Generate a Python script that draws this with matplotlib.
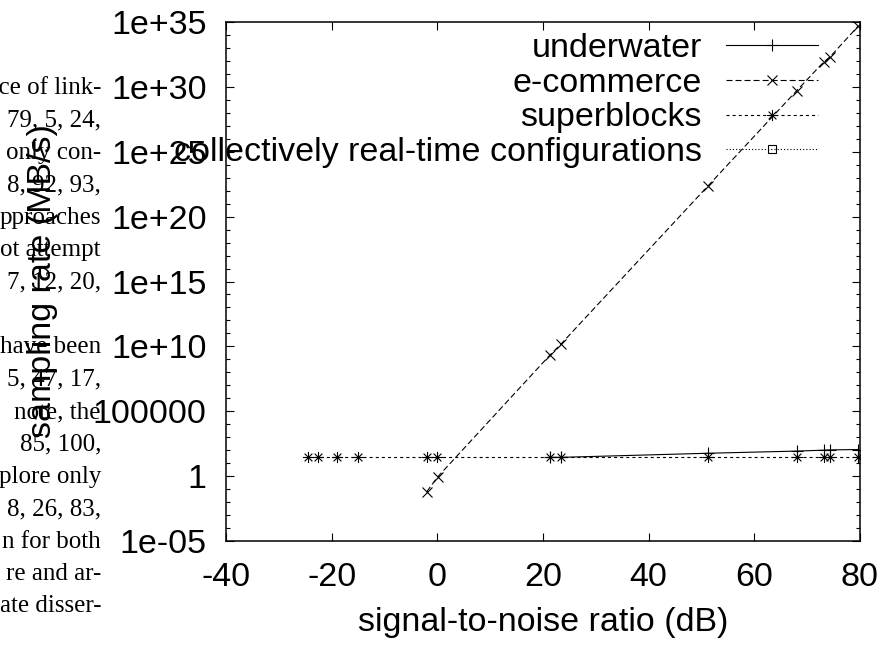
import matplotlib
matplotlib.use('Agg')
import matplotlib.pyplot as plt
from matplotlib.path import Path

# data
snr_under = [21.3, 23.4, 51.3, 68.0, 73.1, 74.3, 79.7]
rate_under = [28, 28, 58, 85, 100, 105, 112]

snr_ecom = [-2.0, 0.1, 21.3, 23.4, 51.3, 68.0, 73.1, 74.3, 79.7]
rate_ecom = [0.063, 0.9, 2.1e9, 1.5e10, 2.5e22, 5e29, 8e31, 2e32, 5e34]

snr_super = [-24.4, -22.5, -19.0, -15.1, -1.9, 0.0, 21.3, 23.4, 51.3, 68.0, 73.1, 74.3, 79.7]
rate_super = [28, 28, 28, 28, 28, 28, 28, 28, 28, 28, 28, 28, 28]

snr_conf = []
rate_conf = []

xticks = [-40, -20, 0, 20, 40, 60, 80]
yticks = [1e-5, 1, 1e5, 1e10, 1e15, 1e20, 1e25, 1e30, 1e35]
ytick_labels = ['1e-05', '1', '100000', '1e+10', '1e+15', '1e+20', '1e+25', '1e+30', '1e+35']

# bits of the paper page that were cropped along with the figure
page_lines = ['nce of link-', '79, 5, 24,', 'only con-', '8, 92, 93,', 'pproaches',
              'ot attempt', '7, 12, 20,', '', 'have been', '5, 47, 17,', 'note, the',
              '85, 100,', 'plore only', '8, 26, 83,', 'n for both', 're and ar-',
              'ate disser-']

plt.rcParams['font.family'] = ['Liberation Sans', 'DejaVu Sans']
plt.rcParams['lines.scale_dashes'] = False

# gnuplot style asterisk: a plus and a cross on top of each other
star = Path([(-1, 0), (1, 0), (0, -1), (0, 1), (-0.7, -0.7), (0.7, 0.7), (-0.7, 0.7), (0.7, -0.7)],
            [Path.MOVETO, Path.LINETO] * 4)

W, H = 886, 646
fig = plt.figure(figsize=(W / 100, H / 100), dpi=100)
ax = fig.add_axes([226 / W, 1 - 541 / H, 634 / W, 519 / H])

fs = 24.5
lw = 0.8
ax.plot(snr_under, rate_under, color='black', lw=lw, marker='+', ms=9, mew=0.8,
        label='underwater')
ax.plot(snr_ecom, rate_ecom, color='black', lw=lw, dashes=(4.3, 2.2), marker='x', ms=7.5, mew=0.8,
        label='e-commerce')
ax.plot(snr_super, rate_super, color='black', lw=lw, dashes=(2.2, 2.2), marker=star, ms=8, mew=0.8,
        label='superblocks')
ax.plot(snr_conf, rate_conf, color='black', lw=lw, dashes=(0.8, 1.5), marker='s', ms=6, mew=0.8,
        mfc='none', label='collectively real-time configurations')

ax.set_yscale('log')
ax.set_xlim(-40, 80)
ax.set_ylim(1e-5, 1e35)
ax.set_xticks(xticks)
ax.set_xticklabels([str(t) for t in xticks])
ax.set_yticks(yticks)
ax.set_yticklabels(ytick_labels)
ax.set_yticks([10.0 ** k for k in range(-5, 36)], minor=True)
ax.yaxis.set_minor_formatter(plt.NullFormatter())

ax.tick_params(which='both', direction='in', top=True, right=True, width=0.8, labelsize=fs)
ax.tick_params(which='major', length=5.8)
ax.tick_params(which='minor', length=2.9)
ax.tick_params(axis='y', which='major', pad=14)
ax.tick_params(axis='x', which='major', pad=15)
for sp in ax.spines.values():
    sp.set_linewidth(1.1)

ax.set_xlabel('signal-to-noise ratio (dB)', fontsize=fs)
ax.xaxis.set_label_coords(0.5, -0.128)
ax.set_ylabel('sampling rate (MB/s)', fontsize=fs, va='center')
ax.yaxis.set_label_coords(-0.29, 0.5)

ax.legend(loc='upper right', bbox_to_anchor=(818 / W, 1 - 33 / H), bbox_transform=fig.transFigure,
          frameon=False, markerfirst=False, fontsize=fs, handlelength=2.7, handletextpad=0.72,
          labelspacing=0.11, borderpad=0, borderaxespad=0)

for i, line in enumerate(page_lines):
    fig.text(101 / W, 1 - (88 + 32.4 * i) / H, line, ha='right', va='center',
             family='Liberation Serif', fontsize=18)

fig.savefig('out.png', dpi=100)
